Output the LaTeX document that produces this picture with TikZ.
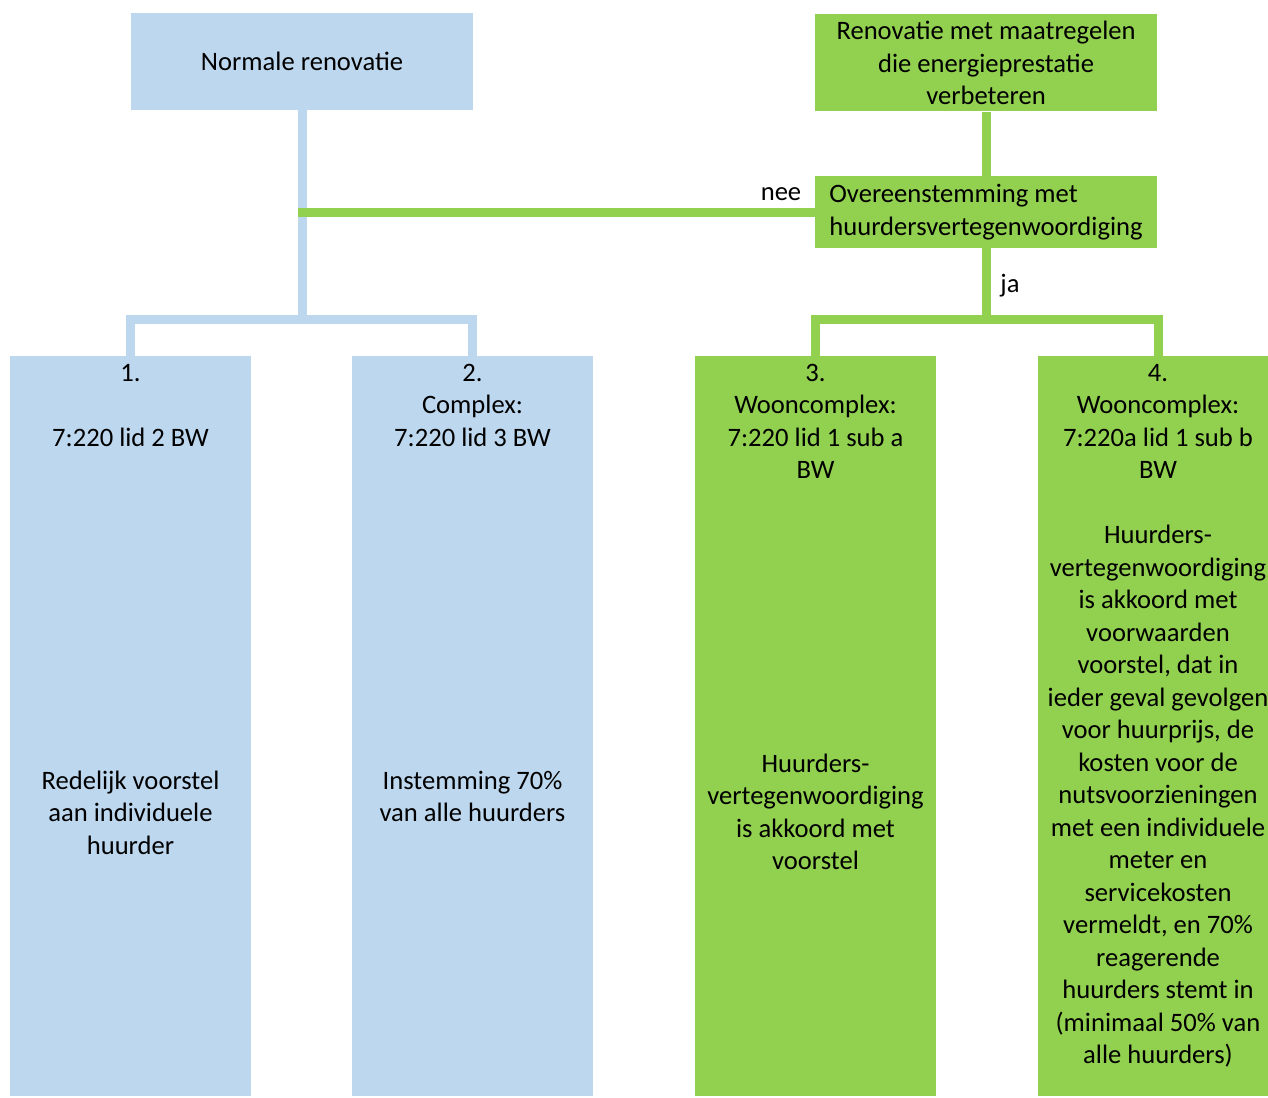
\documentclass[tikz,border=0pt]{standalone}
\usepackage{fontspec}
\setmainfont{Carlito}
\usetikzlibrary{positioning}
\definecolor{lichtblauw}{RGB}{189,215,238}
\definecolor{groen}{RGB}{146,208,80}

\begin{document}
\begin{tikzpicture}
  [%
 x=0.5pt, y=-0.5pt,
 every node/.style={font=\fontsize{13.3}{16.25}\selectfont},
 topbox/.style={
  rectangle,
  inner sep=0pt,
  minimum width=171pt,
  minimum height=48.5pt,
  align=center},
 kolom/.style={
  rectangle,
  inner sep=0pt,
  minimum width=120.5pt,
  minimum height=370pt},
 txt/.style={align=center, inner sep=0pt, anchor=base}, % base = laatste regel
 blauwlijn/.style={draw=lichtblauw, line width=4.5pt},
 groenlijn/.style={draw=groen, line width=4.5pt}]
\useasboundingbox (0,0) rectangle (1268,1097);
% bovenste blokken
\node (normaal) [topbox, fill=lichtblauw] at (302,61.5) {Normale renovatie};
\node (energie) [topbox, fill=groen] at (986,63) {Renovatie met maatregelen\\die energieprestatie\\verbeteren};
\node (akkoord) [topbox, fill=groen, minimum height=36pt, align=left] at (986,212) {Overeenstemming met\\huurdersvertegenwoordiging};
% kolommen
\node (k1) [kolom, fill=lichtblauw] at (130.5,726) {};
\node (k2) [kolom, fill=lichtblauw] at (472.5,726) {};
\node (k3) [kolom, fill=groen] at (815.5,726) {};
\node (k4) [kolom, fill=groen] at (1158,726) {};
\coordinate (splitblauw) at (302,319.5);
\coordinate (splitgroen) at (986,319.5);
% verbindingen
\draw[blauwlijn] (normaal.south) -- (splitblauw);
\draw[blauwlijn] (k1.north) |- (k2.north |- splitblauw) -- (k2.north);
\draw[groenlijn] (energie.south) -- (akkoord.north);
\draw[groenlijn] (akkoord.south) -- (splitgroen);
\draw[groenlijn] (k3.north) |- (k4.north |- splitgroen) -- (k4.north);
\draw[groenlijn, line cap=rect] (akkoord.west) -- (akkoord.west -| normaal.south);
\node (nee) [txt] at (781,200) {nee};
\node (ja) [txt] at (1010,292) {ja};
% teksten in de kolommen
\node (t1) [txt] at (130.5,446) {1.\\\mbox{}\\7:220 lid 2 BW};
\node (t2) [txt] at (472.5,446) {2.\\Complex:\\7:220 lid 3 BW};
\node (t3) [txt] at (815.5,478.5) {3.\\Wooncomplex:\\7:220 lid 1 sub a\\BW};
\node (t4) [txt] at (1158,1063.5) {4.\\Wooncomplex:\\7:220a lid 1 sub b\\BW\\\mbox{}\\Huurders-\\vertegenwoordiging\\is akkoord met\\voorwaarden\\voorstel, dat in\\ieder geval gevolgen\\voor huurprijs, de\\kosten voor de\\nutsvoorzieningen\\met een individuele\\meter en\\servicekosten\\vermeldt, en 70\%\\reagerende\\huurders stemt in\\(minimaal 50\% van\\alle huurders)};
\node (m1) [txt] at (130.5,854) {Redelijk voorstel\\aan individuele\\huurder};
\node (m2) [txt] at (472.5,821.5) {Instemming 70\%\\van alle huurders};
\node (m3) [txt] at (815.5,869.5) {Huurders-\\vertegenwoordiging\\is akkoord met\\voorstel};
\end{tikzpicture}
\end{document}
